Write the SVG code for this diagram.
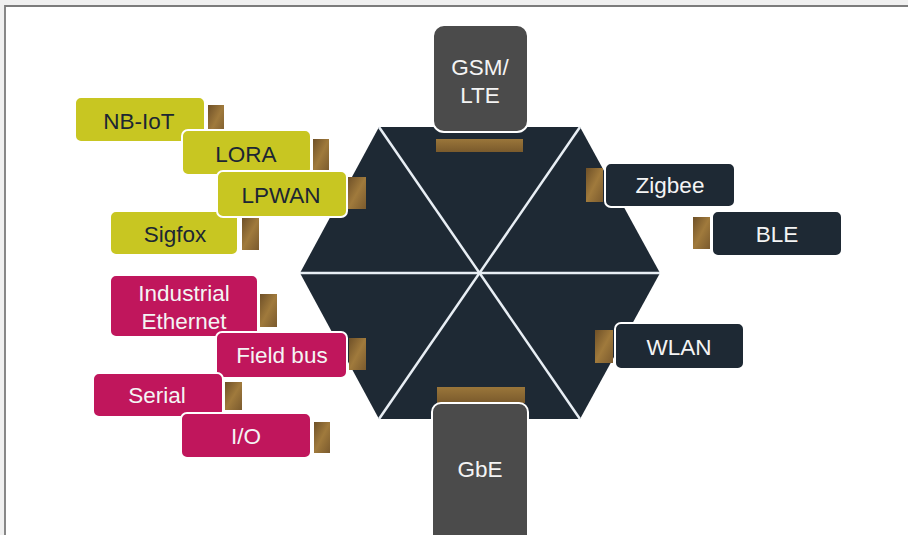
<svg xmlns="http://www.w3.org/2000/svg" width="908" height="535" viewBox="0 0 908 535">
<defs>
<linearGradient id="tab" x1="0" y1="0" x2="1" y2="1">
<stop offset="0" stop-color="#6e5028"/>
<stop offset="0.5" stop-color="#a07a3c"/>
<stop offset="1" stop-color="#7a5a2e"/>
</linearGradient>
<linearGradient id="bar" x1="0" y1="0" x2="0" y2="1">
<stop offset="0" stop-color="#9a763a"/>
<stop offset="1" stop-color="#7a5a2c"/>
</linearGradient>
</defs>
<style>
.box{stroke:#ffffff;stroke-width:2}
.y{fill:#c8c622}
.m{fill:#c0165c}
.d{fill:#1e2934}
.g{fill:#4b4b4b}
.tab{fill:url(#tab)}
.bar{fill:url(#bar)}
text{font-family:"Liberation Sans",Arial,sans-serif;font-size:22.5px;text-anchor:middle;dominant-baseline:central}
.ty{fill:#1c2633}
.tw{fill:#f4f4f4}
.hl{stroke:#e8eef4;stroke-width:2.5;fill:none}
</style>
<rect x="0" y="0" width="908" height="535" fill="#f0f0f0"/>
<rect x="5" y="6" width="903" height="529" fill="#ffffff"/>
<path d="M5 535 V6 H908" fill="none" stroke="#7c7c7c" stroke-width="1.8"/>

<g id="hexagon">
<polygon points="379,127 580,127 660,273 580,419 379,419 300,273" fill="#1e2934"/>
</g>
<g id="connectors">
<line class="hl" x1="379" y1="127" x2="580" y2="419"/>
<line class="hl" x1="580" y1="127" x2="379" y2="419"/>
<line class="hl" x1="300" y1="273" x2="660" y2="273"/>
</g>

<g id="gsm">
<rect class="bar" x="436" y="139" width="87" height="13"/>
<rect class="box g" x="433" y="25" width="95" height="107" rx="11"/>
<text class="tw" x="480" y="67">GSM/</text>
<text class="tw" x="480" y="95">LTE</text>
</g>
<g id="gbe">
<rect class="bar" x="437" y="387" width="88" height="16"/>
<rect class="box g" x="432" y="403" width="96" height="140" rx="9"/>
<text class="tw" x="480" y="469">GbE</text>
</g>

<g id="zigbee">
<rect class="tab" x="586" y="168" width="17" height="34"/>
<rect class="box d" x="605" y="163" width="130" height="44" rx="6"/>
<text class="tw" x="670" y="185">Zigbee</text>
</g>
<g id="ble">
<rect class="tab" x="693" y="217" width="17" height="32"/>
<rect class="box d" x="712" y="211" width="130" height="45" rx="6"/>
<text class="tw" x="777" y="234">BLE</text>
</g>
<g id="wlan">
<rect class="tab" x="595" y="330" width="18" height="33"/>
<rect class="box d" x="615" y="323" width="129" height="46" rx="6"/>
<text class="tw" x="679" y="347">WLAN</text>
</g>

<g id="nbiot">
<rect class="tab" x="208" y="105" width="16" height="32"/>
<rect class="box y" x="75" y="97" width="130" height="45" rx="6"/>
<text class="ty" x="139" y="121">NB-IoT</text>
</g>
<g id="lora">
<rect class="tab" x="313" y="139" width="16" height="33"/>
<rect class="box y" x="182" y="130" width="129" height="45" rx="6"/>
<text class="ty" x="246" y="154">LORA</text>
</g>
<g id="sigfox">
<rect class="tab" x="242" y="218" width="17" height="32"/>
<rect class="box y" x="110" y="211" width="128" height="44" rx="6"/>
<text class="ty" x="175" y="234">Sigfox</text>
</g>
<g id="lpwan">
<rect class="tab" x="348" y="177" width="18" height="32"/>
<rect class="box y" x="217" y="171" width="130" height="46" rx="6"/>
<text class="ty" x="281" y="195">LPWAN</text>
</g>

<g id="industrial-ethernet">
<rect class="tab" x="260" y="294" width="17" height="33"/>
<rect class="box m" x="110" y="275" width="148" height="62" rx="6"/>
<text class="tw" x="184" y="293">Industrial</text>
<text class="tw" x="184" y="321">Ethernet</text>
</g>
<g id="fieldbus">
<rect class="tab" x="349" y="338" width="17" height="32"/>
<rect class="box m" x="216" y="332" width="131" height="46" rx="6"/>
<text class="tw" x="282" y="355">Field bus</text>
</g>
<g id="serial">
<rect class="tab" x="225" y="382" width="17" height="28"/>
<rect class="box m" x="93" y="373" width="130" height="44" rx="6"/>
<text class="tw" x="157" y="395">Serial</text>
</g>
<g id="io">
<rect class="tab" x="314" y="422" width="16" height="31"/>
<rect class="box m" x="181" y="413" width="130" height="45" rx="6"/>
<text class="tw" x="246" y="436">I/O</text>
</g>
</svg>
